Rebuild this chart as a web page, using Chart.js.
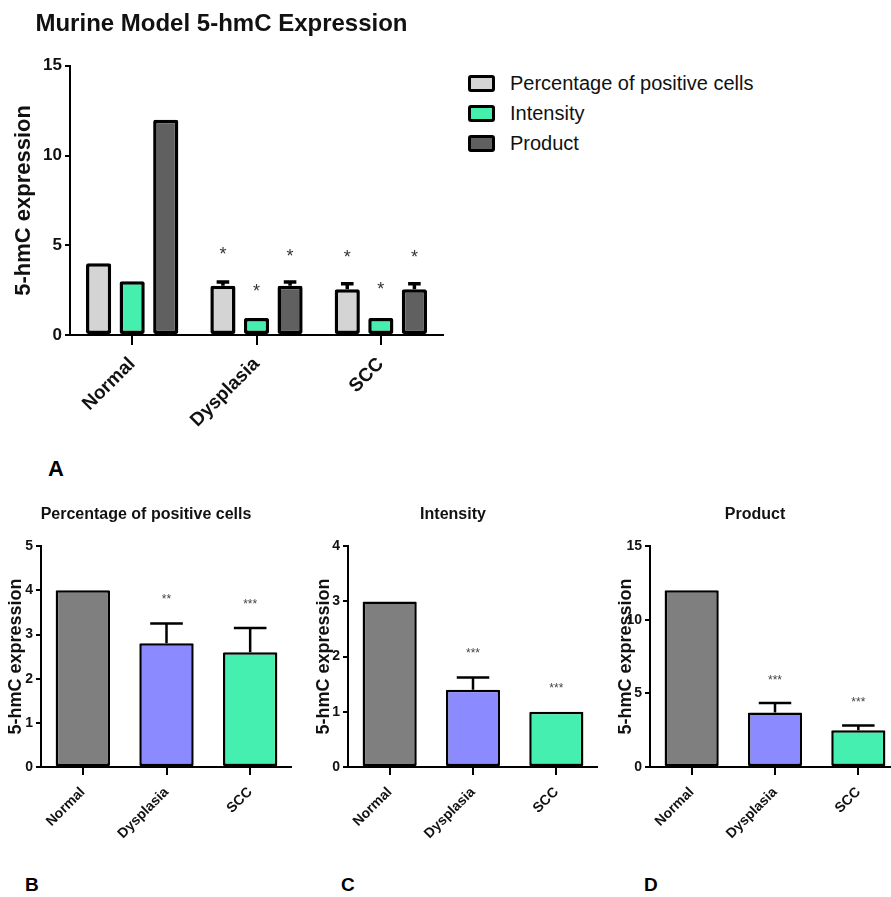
<!DOCTYPE html>
<html>
<head>
<meta charset="utf-8">
<script src="https://cdn.jsdelivr.net/npm/chart.js@4.4.1/dist/chart.umd.min.js"></script>
<style>
  html, body { margin:0; padding:0; background:#fff; overflow:hidden; width:891px; height:897px; }
  canvas { position:absolute; }
  .panel { position:absolute; font-family:"Liberation Sans", Arial, sans-serif; font-weight:bold; color:#000; line-height:1; }
  #legendA { position:absolute; left:468px; top:68px; font-family:"Liberation Sans", Arial, sans-serif; font-size:20px; color:#111; }
  #legendA .item { height:30px; display:flex; align-items:center; }
  #legendA .box { width:21px; height:11px; border:3px solid #000; border-radius:3px; margin-right:15px; }
</style>
</head>
<body>
<canvas id="chartA" width="454" height="445" style="left:0px;top:0px"></canvas>
<div id="legendA"></div>
<div class="panel" style="left:48px;top:458px;font-size:22px">A</div>

<canvas id="chartB" width="292" height="365" style="left:0px;top:490px"></canvas>
<canvas id="chartC" width="290" height="365" style="left:308px;top:490px"></canvas>
<canvas id="chartD" width="290" height="365" style="left:610px;top:490px"></canvas>
<div class="panel" style="left:25px;top:875px;font-size:19px">B</div>
<div class="panel" style="left:341px;top:875px;font-size:19px">C</div>
<div class="panel" style="left:644px;top:875px;font-size:19px">D</div>

<script>
//categories
var groups = ["Normal", "Dysplasia", "SCC"];
var seriesNames = ["Percentage of positive cells", "Intensity", "Product"];

//panel A values (mean, error, star position)
var aPercent = [4, 2.75, 2.55];
var aPercentErr = [0, 0.2, 0.3];
var aPercentStar = ["", "*", "*"];
var aPercentStarY = [null, 4.75, 4.6];

var aIntensity = [3, 0.95, 0.95];
var aIntensityErr = [0, 0, 0];
var aIntensityStar = ["", "*", "*"];
var aIntensityStarY = [null, 2.7, 2.8];

var aProduct = [12, 2.75, 2.55];
var aProductErr = [0, 0.2, 0.3];
var aProductStar = ["", "*", "*"];
var aProductStarY = [null, 4.65, 4.6];

var aTicks = [0, 5, 10, 15];

//panel B - percentage of positive cells
var bValues = [4, 2.8, 2.6];
var bErr = [0, 0.45, 0.55];
var bStars = ["", "**", "***"];
var bStarY = [null, 3.86, 3.75];
var bTicks = [0, 1, 2, 3, 4, 5];

//panel C - intensity
var cValues = [3, 1.4, 1.0];
var cErr = [0, 0.22, 0];
var cStars = ["", "***", "***"];
var cStarY = [null, 2.11, 1.49];
var cTicks = [0, 1, 2, 3, 4];

//panel D - product
var dValues = [12, 3.7, 2.5];
var dErr = [0, 0.65, 0.32];
var dStars = ["", "***", "***"];
var dStarY = [null, 6.1, 4.64];
var dTicks = [0, 5, 10, 15];

//colours
var colA = ["#d4d4d4", "#45f0ae", "#606060"];
var colSmall = ["#7f7f7f", "#8b8bff", "#44efaf"];

Chart.defaults.font.family = "'Liberation Sans', Arial, sans-serif";
Chart.defaults.color = "#111";

/**
  draws the error bars (mean + SEM, upper side only)
  and the significance stars above the bars
*/
var errorBarPlugin = {
	id: "errorBars",
	afterDatasetsDraw: function(chart, args, opts){
		var ctx = chart.ctx;
		var yScale = chart.scales.y;
		chart.data.datasets.forEach(function(ds, i){
			var meta = chart.getDatasetMeta(i);
			meta.data.forEach(function(bar, j){
				var err = ds.errors ? ds.errors[j] : 0;
				if(err){
					var top = yScale.getPixelForValue(ds.data[j] + err);
					var capW = bar.width * opts.capRatio;
					ctx.save();
					ctx.strokeStyle = "#000";
					ctx.lineWidth = opts.lineWidth;
					ctx.beginPath();
					ctx.moveTo(bar.x, bar.y);
					ctx.lineTo(bar.x, top);
					ctx.moveTo(bar.x - capW / 2, top);
					ctx.lineTo(bar.x + capW / 2, top);
					ctx.stroke();
					ctx.restore();
				}
				if(ds.stars && ds.stars[j]){
					ctx.save();
					ctx.font = opts.starSize + "px " + opts.starFamily;
					ctx.fillStyle = opts.starColor;
					ctx.textAlign = "center";
					ctx.textBaseline = "alphabetic";
					var y = yScale.getPixelForValue(ds.starY[j]) + opts.starSize * 0.57;
					ctx.fillText(ds.stars[j], bar.x, y);
					ctx.restore();
				}
			});
		});
	}
};

function axisOptions(ticks, cfg){
	return {
		x: {
			grid: { offset: false, drawOnChartArea: false, color: "#000", lineWidth: 2, tickLength: cfg.xTickLen },
			border: { color: "#000", width: 2 },
			ticks: { font: { size: cfg.xFont, weight: "bold" }, color: "#111", minRotation: 45, maxRotation: 45, padding: cfg.xPad },
			afterFit: function(s){ s.height = cfg.xHeight; }
		},
		y: {
			min: ticks[0],
			max: ticks[ticks.length - 1],
			ticks: { stepSize: ticks[1] - ticks[0], font: { size: cfg.yFont, weight: "bold" }, color: "#111", padding: 3 },
			grid: { drawOnChartArea: false, color: "#000", lineWidth: 2, tickLength: 5 },
			border: { color: "#000", width: 2 },
			title: { display: true, text: "5-hmC expression", font: { size: cfg.yTitleFont, weight: "bold" }, color: "#111", padding: { top: cfg.yTitlePad, bottom: 0 } },
			afterFit: function(s){ s.width = cfg.yWidth; }
		}
	};
}

//panel A : grouped bars
var dsA = [
	{ label: seriesNames[0], data: aPercent, errors: aPercentErr, stars: aPercentStar, starY: aPercentStarY },
	{ label: seriesNames[1], data: aIntensity, errors: aIntensityErr, stars: aIntensityStar, starY: aIntensityStarY },
	{ label: seriesNames[2], data: aProduct, errors: aProductErr, stars: aProductStar, starY: aProductStarY }
];
dsA.forEach(function(ds, i){
	ds.backgroundColor = colA[i];
	ds.borderColor = "#000";
	ds.borderWidth = 3.5;
	ds.borderRadius = 2;
	ds.borderSkipped = false;
	ds.categoryPercentage = 0.81;
	ds.barPercentage = 0.75;
});

var chartA = new Chart(document.getElementById("chartA"), {
	type: "bar",
	data: { labels: groups, datasets: dsA },
	plugins: [errorBarPlugin],
	options: {
		responsive: false,
		animation: false,
		layout: { padding: { left: 0, right: 11, top: 0, bottom: 0 } },
		plugins: {
			legend: { display: false },
			tooltip: { enabled: false },
			title: { display: true, text: "Murine Model 5-hmC Expression", font: { size: 24, weight: "bold" }, color: "#111", padding: { top: 10, bottom: 27 } },
			errorBars: { capRatio: 0.5, lineWidth: 3.5, starSize: 18, starFamily: "'Liberation Sans', Arial", starColor: "#333" }
		},
		scales: axisOptions(aTicks, { xTickLen: 10, xFont: 19, xPad: 8, xHeight: 110,
			yFont: 17, yTitleFont: 22, yTitlePad: 11, yWidth: 70 })
	}
});

//html legend built from the chart datasets
var legendBox = document.getElementById("legendA");
chartA.data.datasets.forEach(function(ds){
	var item = document.createElement("div");
	item.className = "item";
	var box = document.createElement("span");
	box.className = "box";
	box.style.background = ds.backgroundColor;
	var txt = document.createElement("span");
	txt.textContent = ds.label;
	item.appendChild(box);
	item.appendChild(txt);
	legendBox.appendChild(item);
});

//panels B, C, D : single series
function smallChart(id, title, values, errs, stars, starY, ticks, yWidth){
	return new Chart(document.getElementById(id), {
		type: "bar",
		data: {
			labels: groups,
			datasets: [{
				data: values, errors: errs, stars: stars, starY: starY,
				backgroundColor: colSmall, borderColor: "#000", borderWidth: 2.5, borderRadius: 1,
				borderSkipped: false, categoryPercentage: 1, barPercentage: 0.65
			}]
		},
		plugins: [errorBarPlugin],
		options: {
			responsive: false,
			animation: false,
			layout: { padding: 0 },
			plugins: {
				legend: { display: false },
				tooltip: { enabled: false },
				title: { display: true, text: title, font: { size: 16, weight: "bold" }, color: "#111", padding: { top: 15, bottom: 22 } },
				errorBars: { capRatio: 0.6, lineWidth: 2.5, starSize: 12, starFamily: "'Liberation Sans', Arial", starColor: "#444" }
			},
			scales: axisOptions(ticks, { xTickLen: 8, xFont: 14, xPad: 9, xHeight: 88,
				yFont: 14, yTitleFont: 18, yTitlePad: 5, yWidth: yWidth })
		}
	});
}

smallChart("chartB", seriesNames[0], bValues, bErr, bStars, bStarY, bTicks, 41);
smallChart("chartC", seriesNames[1], cValues, cErr, cStars, cStarY, cTicks, 40);
smallChart("chartD", seriesNames[2], dValues, dErr, dStars, dStarY, dTicks, 40);
</script>
</body>
</html>
